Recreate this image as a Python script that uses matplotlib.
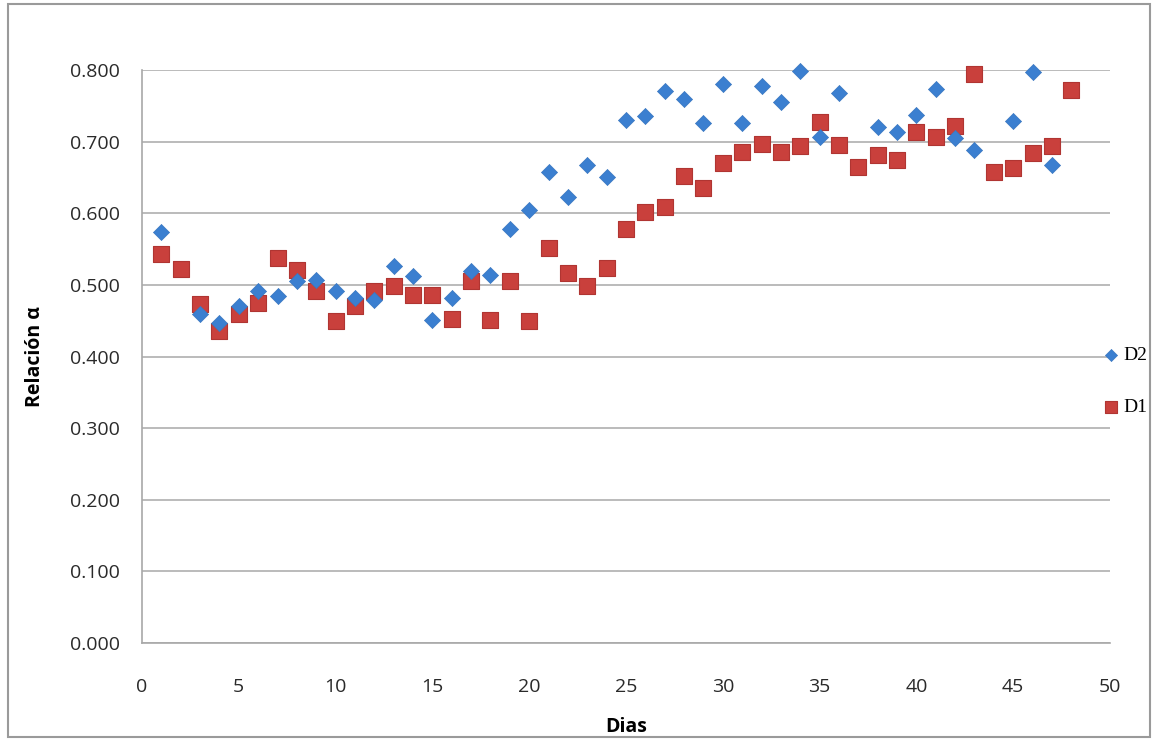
import numpy as np
import matplotlib
matplotlib.use("Agg")
import matplotlib.pyplot as plt
from matplotlib.patches import Rectangle

# days 1..48
dias = list(range(1, 49))
nan = np.nan
d2 = [0.574, nan, 0.460, 0.447, 0.470, 0.492, 0.485, 0.506, 0.507, 0.492,
      0.482, 0.479, 0.526, 0.513, 0.451, 0.481, 0.519, 0.514, 0.578, 0.604,
      0.657, 0.622, 0.668, 0.651, 0.730, 0.736, 0.771, 0.759, 0.726, 0.780,
      0.726, 0.777, 0.756, 0.798, 0.707, 0.768, nan, 0.721, 0.713, 0.737,
      0.774, 0.705, 0.689, nan, 0.729, 0.797, 0.667, nan]
d1 = [0.543, 0.522, 0.473, 0.436, 0.459, 0.475, 0.538, 0.521, 0.491, 0.450,
      0.470, 0.491, 0.499, 0.486, 0.486, 0.452, 0.505, 0.451, 0.505, 0.450,
      0.552, 0.517, 0.499, 0.524, 0.578, 0.602, 0.609, 0.652, 0.635, 0.670,
      0.685, 0.697, 0.685, 0.694, 0.727, 0.695, 0.665, 0.682, 0.674, 0.713,
      0.706, 0.722, 0.795, 0.658, 0.663, 0.684, 0.694, 0.772]

yticks = [0.0, 0.1, 0.2, 0.3, 0.4, 0.5, 0.6, 0.7, 0.8]
xticks = [0, 5, 10, 15, 20, 25, 30, 35, 40, 45, 50]

plt.rcParams['font.family'] = ['Open Sans', 'DejaVu Sans']

W, H = 1154, 741
fig = plt.figure(figsize=(W / 100, H / 100), dpi=100)
ax = fig.add_axes([142 / W, 1 - 643 / H, (1110 - 142) / W, (643 - 70) / H])

# outer chart frame
fig.patches.append(Rectangle((8 / W, 1 - 737 / H), (1150 - 8) / W, (737 - 4) / H,
                             transform=fig.transFigure, fill=False,
                             edgecolor='#9a9a9a', linewidth=1.5))

ax.scatter(dias, d1, marker='s', s=12.2 ** 2, color='#c9403c',
           edgecolors='#b03532', linewidths=0.8, zorder=3, label='D1',
           clip_on=False)
ax.scatter(dias, d2, marker='D', s=8.2 ** 2, color='#3b7fd0',
           edgecolors='#3a77c0', linewidths=0.5, zorder=4, label='D2',
           clip_on=False)

ax.set_xlim(0, 50)
ax.set_ylim(0, 0.8)
ax.set_xticks(xticks)
ax.set_yticks(yticks)
ax.set_yticklabels(['%.3f' % v for v in yticks])
ax.tick_params(axis='both', length=0, labelsize=14, colors='#2a2a2a')
ax.tick_params(axis='y', pad=16)
ax.tick_params(axis='x', pad=25)
ax.grid(axis='y', color='#a8a8a8', linewidth=1.1)
ax.set_axisbelow(True)
for side in ['top', 'right']:
    ax.spines[side].set_visible(False)
for side in ['left', 'bottom']:
    ax.spines[side].set_color('#a8a8a8')
    ax.spines[side].set_linewidth(1.2)

ax.set_xlabel('Dias', fontsize=14, fontweight='bold', labelpad=15)
ax.set_ylabel('Relación α', fontsize=14, fontweight='bold', labelpad=18)

h, l = ax.get_legend_handles_labels()
leg = fig.legend(h[::-1], l[::-1], loc='upper left',
                 bbox_to_anchor=(1088 / W, 1 - 329 / H), frameon=False,
                 handlelength=0.6, handletextpad=0.3, labelspacing=1.75,
                 markerscale=0.75,
                 prop={'family': 'Liberation Serif', 'size': 14})

fig.savefig('out.png', dpi=100)
